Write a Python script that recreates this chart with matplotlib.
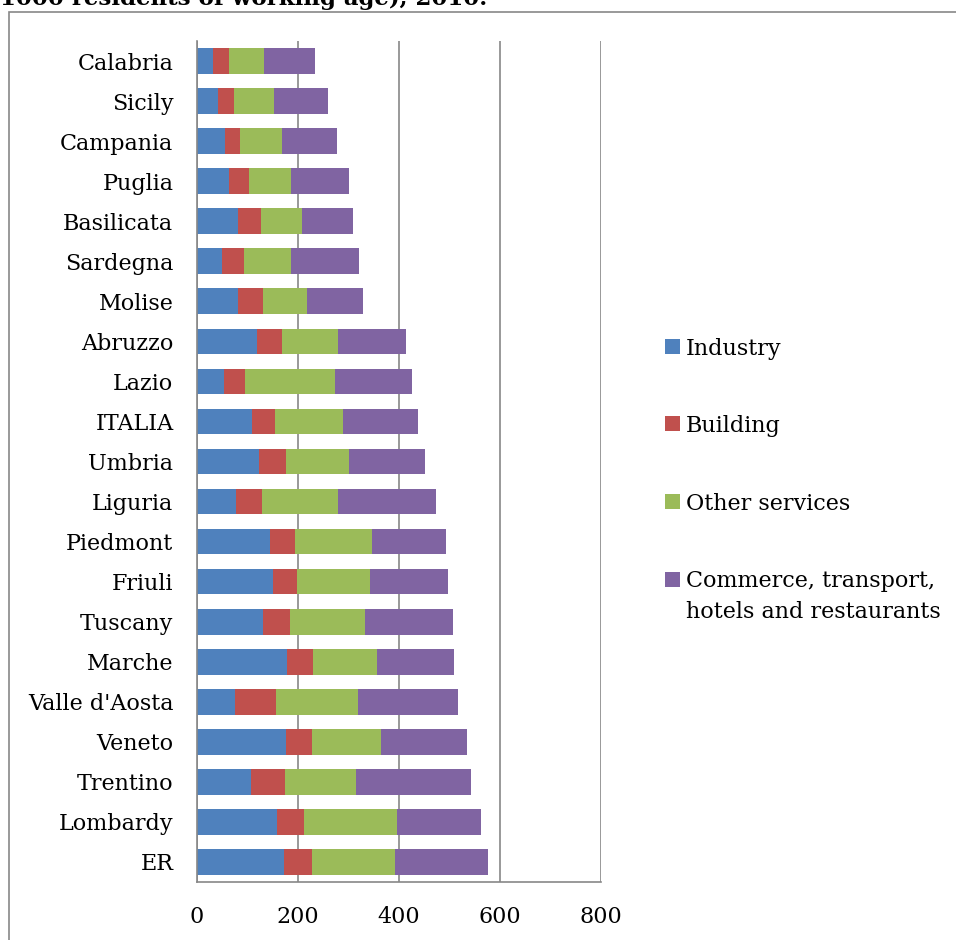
import numpy as np
import matplotlib
matplotlib.use("Agg")
import matplotlib.pyplot as plt
from matplotlib.patches import Rectangle

# regions, top to bottom as in the chart
regions = ["Calabria", "Sicily", "Campania", "Puglia", "Basilicata", "Sardegna",
           "Molise", "Abruzzo", "Lazio", "ITALIA", "Umbria", "Liguria",
           "Piedmont", "Friuli", "Tuscany", "Marche", "Valle d'Aosta",
           "Veneto", "Trentino", "Lombardy", "ER"]

industry = [32, 42, 55, 63, 81, 50, 81, 118, 53, 109, 123, 77,
            145, 150, 131, 179, 75, 176, 107, 158, 173]
building = [32, 32, 31, 40, 45, 43, 50, 51, 43, 46, 53, 51,
            49, 48, 53, 51, 81, 52, 68, 53, 54]
other_services = [68, 78, 83, 83, 81, 94, 87, 110, 178, 135, 124, 151,
                  152, 145, 149, 126, 162, 137, 139, 186, 166]
commerce = [102, 107, 109, 114, 101, 134, 111, 134, 152, 147, 151, 194,
            147, 154, 174, 152, 198, 170, 228, 166, 184]

series_names = ["Industry", "Building", "Other services",
                "Commerce, transport,\nhotels and restaurants"]
colors = ["#4F81BD", "#C0504D", "#9BBB59", "#8064A2"]
xticks = [0, 200, 400, 600, 800]

plt.rcParams['font.family'] = ['DejaVu Serif']
grey = "#878787"
W, H = 956, 940

fig = plt.figure(figsize=(9.56, 9.40), dpi=100)
ax = fig.add_axes([197/W, 1-882/H, 404/W, 841/H])

n = len(regions)
ypos = np.arange(n)[::-1]  # Calabria on top
data = [industry, building, other_services, commerce]
left = np.zeros(n)
for vals, c in zip(data, colors):
    vals = np.array(vals, dtype=float)
    ax.barh(ypos, vals, left=left, height=0.64, color=c, linewidth=0, zorder=3)
    left = left + vals

ax.set_xlim(0, 800)
ax.set_ylim(-0.5, n - 0.5)
ax.set_xticks(xticks)
ax.set_xticklabels([str(t) for t in xticks], fontsize=16)
ax.set_yticks(ypos)
ax.set_yticklabels(regions, fontsize=16)
ax.tick_params(axis='both', length=0)
ax.tick_params(axis='x', pad=17)
ax.tick_params(axis='y', pad=17)
ax.xaxis.grid(True, color=grey, linewidth=1.2, zorder=1)
ax.set_axisbelow(True)
for s in ["top", "right"]:
    ax.spines[s].set_visible(False)
for s in ["left", "bottom"]:
    ax.spines[s].set_color(grey)
    ax.spines[s].set_linewidth(1.2)
    ax.spines[s].set_zorder(4)

# chart frame (only top/left edges visible in the crop)
fig.add_artist(Rectangle((9/W, -0.2), 1.5, 1 - 12/H + 0.2,
                         transform=fig.transFigure, fill=False,
                         edgecolor=grey, linewidth=1.2))

# title, cut off at the top of the image
fig.text(0.0, 1 - 5/H, "1000 residents of working age), 2010.",
         fontsize=16.5, fontweight='bold', ha='left', va='baseline')

# legend, laid out like the spreadsheet one (marker beside first line)
baselines = [355, 432, 510, 588]
line_pitch = 30
for name, c, b in zip(series_names, colors, baselines):
    fig.add_artist(Rectangle((665/W, 1 - (b - 1)/H), 15/W, 15/H,
                             transform=fig.transFigure, facecolor=c,
                             edgecolor='none'))
    # baseline alignment uses the last line of a multi-line text
    last = b + line_pitch * name.count("\n")
    fig.text(686/W, 1 - last/H, name, fontsize=16, ha='left', va='baseline',
             linespacing=1.5)

fig.savefig("out.png", dpi=100)
